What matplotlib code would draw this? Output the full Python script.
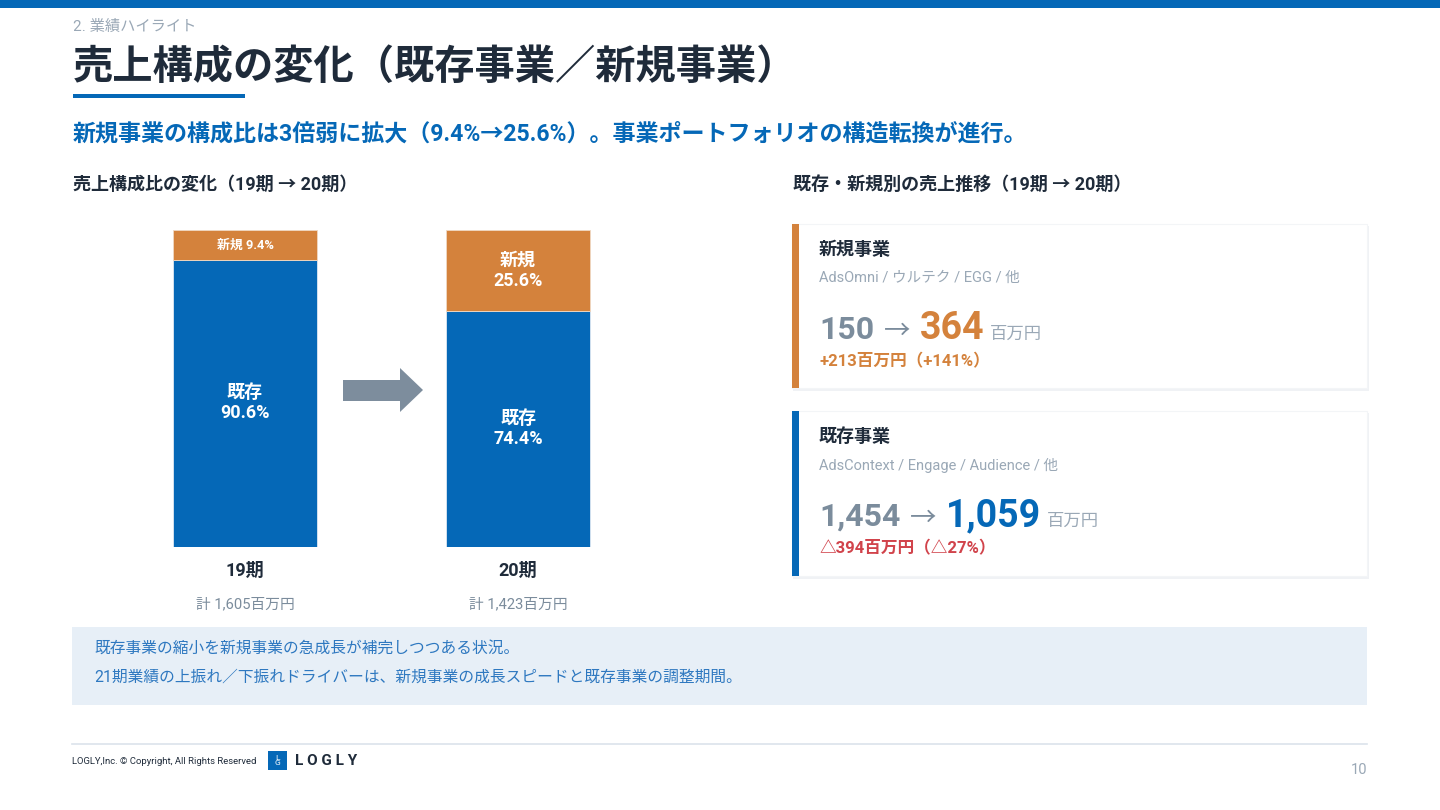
import matplotlib
matplotlib.use("Agg")
import matplotlib.pyplot as plt
from matplotlib.patches import Rectangle, Polygon

plt.rcParams['font.family'] = ['Roboto', 'Noto Sans CJK JP', 'DejaVu Sans']

# data
periods = ['19期', '20期']
existing_share = [90.6, 74.4]
new_share = [9.4, 25.6]
totals = [1605, 1423]

new_sales = [150, 364]
new_change, new_change_pct = 213, 141
existing_sales = [1454, 1059]
existing_change, existing_change_pct = 394, 27

BLUE = '#0568b7'
ORANGE = '#d4823c'
DARK = '#1f2b3a'
GRAY = '#7b8c9c'
LGRAY = '#9aa8b6'
RED = '#d1434b'

W, H = 1440, 810
fig = plt.figure(figsize=(14.4, 8.1), dpi=100)
fig.patch.set_facecolor('white')

# overlay in pixel coordinates
ov = fig.add_axes([0, 0, 1, 1], zorder=0)
ov.set_xlim(0, W)
ov.set_ylim(H, 0)
ov.axis('off')

ov.add_patch(Rectangle((0, 0), W, 8, color=BLUE, lw=0))
ov.text(73, 27, '2. 業績ハイライト', fontsize=11, color=LGRAY, va='center')
ov.text(73, 68, '売上構成の変化（既存事業／新規事業）', fontsize=29, color=DARK,
        fontweight='bold', va='center')
ov.add_patch(Rectangle((73, 94), 172, 4, color=BLUE, lw=0))
ov.text(73, 134, '新規事業の構成比は3倍弱に拡大（9.4%→25.6%）。事業ポートフォリオの構造転換が進行。',
        fontsize=16.6, color=BLUE, fontweight='bold', va='center')
ov.text(73, 185, '売上構成比の変化（19期 → 20期）', fontsize=13, color=DARK,
        fontweight='bold', va='center')
ov.text(793, 185, '既存・新規別の売上推移（19期 → 20期）', fontsize=13, color=DARK,
        fontweight='bold', va='center')

# arrow between bars
ov.add_patch(Polygon([(343, 380), (400, 380), (400, 368), (423, 390),
                      (400, 412), (400, 401), (343, 401)],
                     closed=True, color='#7d8d9d', lw=0))

# stacked bars
bx = fig.add_axes([100 / W, (H - 547) / H, 560 / W, 317 / H], zorder=1)
bx.patch.set_alpha(0)
xs = list(range(len(periods)))
bx.bar(xs, existing_share, width=0.527, color=BLUE, edgecolor='#dfe8f2', lw=0.6)
bx.bar(xs, new_share, bottom=existing_share, width=0.527, color=ORANGE,
       edgecolor='#f0d9c4', lw=0.6)
bx.set_xlim(-0.531, 1.52)
bx.set_ylim(0, 100)
bx.axis('off')

for i, x in enumerate(xs):
    bx.text(x, existing_share[i] * 0.5, f'既存\n{existing_share[i]:.1f}%', ha='center',
            va='center', color='white', fontsize=13, fontweight='bold', linespacing=1.15)
    mid = existing_share[i] + new_share[i] / 2
    if new_share[i] < 15:
        bx.text(x, mid, f'新規 {new_share[i]:.1f}%', ha='center', va='center',
                color='white', fontsize=9.3, fontweight='bold')
    else:
        bx.text(x, mid, f'新規\n{new_share[i]:.1f}%', ha='center', va='center',
                color='white', fontsize=13, fontweight='bold', linespacing=1.15)
    bx.text(x, -7.6, periods[i], ha='center', va='center', color=DARK,
            fontsize=13, fontweight='bold', clip_on=False)
    bx.text(x, -18, f'計 {totals[i]:,}百万円', ha='center', va='center', color=GRAY,
            fontsize=10.6, clip_on=False)

# cards
renderer = fig.canvas.get_renderer()


def run_texts(x, y, parts):
    for s, size, color, weight, gap in parts:
        t = ov.text(x, y, s, fontsize=size, color=color, fontweight=weight, va='baseline')
        x += t.get_window_extent(renderer).width + gap


def card(y0, h, stripe, title, sub, vals, big_color, change, change_color):
    ov.add_patch(Rectangle((793, y0 + 2), 576, h + 1, color='#f0f2f5', lw=0))
    ov.add_patch(Rectangle((792, y0), 575, h, facecolor='white', edgecolor='#f3f5f7', lw=0.8))
    ov.add_patch(Rectangle((792, y0), 7, h, color=stripe, lw=0))
    ov.text(819, y0 + 26, title, fontsize=13, color=DARK, fontweight='bold', va='center')
    ov.text(819, y0 + 54, sub, fontsize=10.5, color=LGRAY, va='center')
    run_texts(819, y0 + 115, [
        (f'{vals[0]:,}', 23, GRAY, 'bold', 10),
        ('→', 19, GRAY, 'normal', 9),
        (f'{vals[1]:,}', 27, big_color, 'bold', 6),
        ('百万円', 12.5, LGRAY, 'normal', 0),
    ])
    ov.text(819, y0 + 137, change, fontsize=12, color=change_color, fontweight='bold',
            va='center')


card(224, 164, ORANGE, '新規事業', 'AdsOmni / ウルテク / EGG / 他', new_sales, ORANGE,
     f'+{new_change}百万円（+{new_change_pct}%）', ORANGE)
card(411, 165, BLUE, '既存事業', 'AdsContext / Engage / Audience / 他', existing_sales, BLUE,
     f'△{existing_change}百万円（△{existing_change_pct}%）', RED)

# note box
ov.add_patch(Rectangle((72, 627), 1295, 78, color='#e7eff7', lw=0))
ov.text(94, 648, '既存事業の縮小を新規事業の急成長が補完しつつある状況。', fontsize=11.3,
        color='#2e78c0', va='center')
ov.text(94, 677, '21期業績の上振れ／下振れドライバーは、新規事業の成長スピードと既存事業の調整期間。',
        fontsize=11.3, color='#2e78c0', va='center')

# footer
ov.plot([72, 1367], [744, 744], color='#dbe3eb', lw=1.2)
ov.text(72, 761, 'LOGLY,Inc. © Copyright, All Rights Reserved', fontsize=6.8,
        color=DARK, va='center')
ov.add_patch(Rectangle((268, 751), 19, 19, color=BLUE, lw=0))
ov.text(277.5, 760.5, 'L\nG', fontsize=6, color='white', ha='center', va='center',
        linespacing=0.9)
ov.text(295, 761, 'L O G L Y', fontsize=11, color=DARK, fontweight='bold', va='center')
ov.text(1367, 770, '10', fontsize=10.5, color=LGRAY, ha='right', va='center')

fig.savefig('out.png', dpi=100, facecolor='white')
